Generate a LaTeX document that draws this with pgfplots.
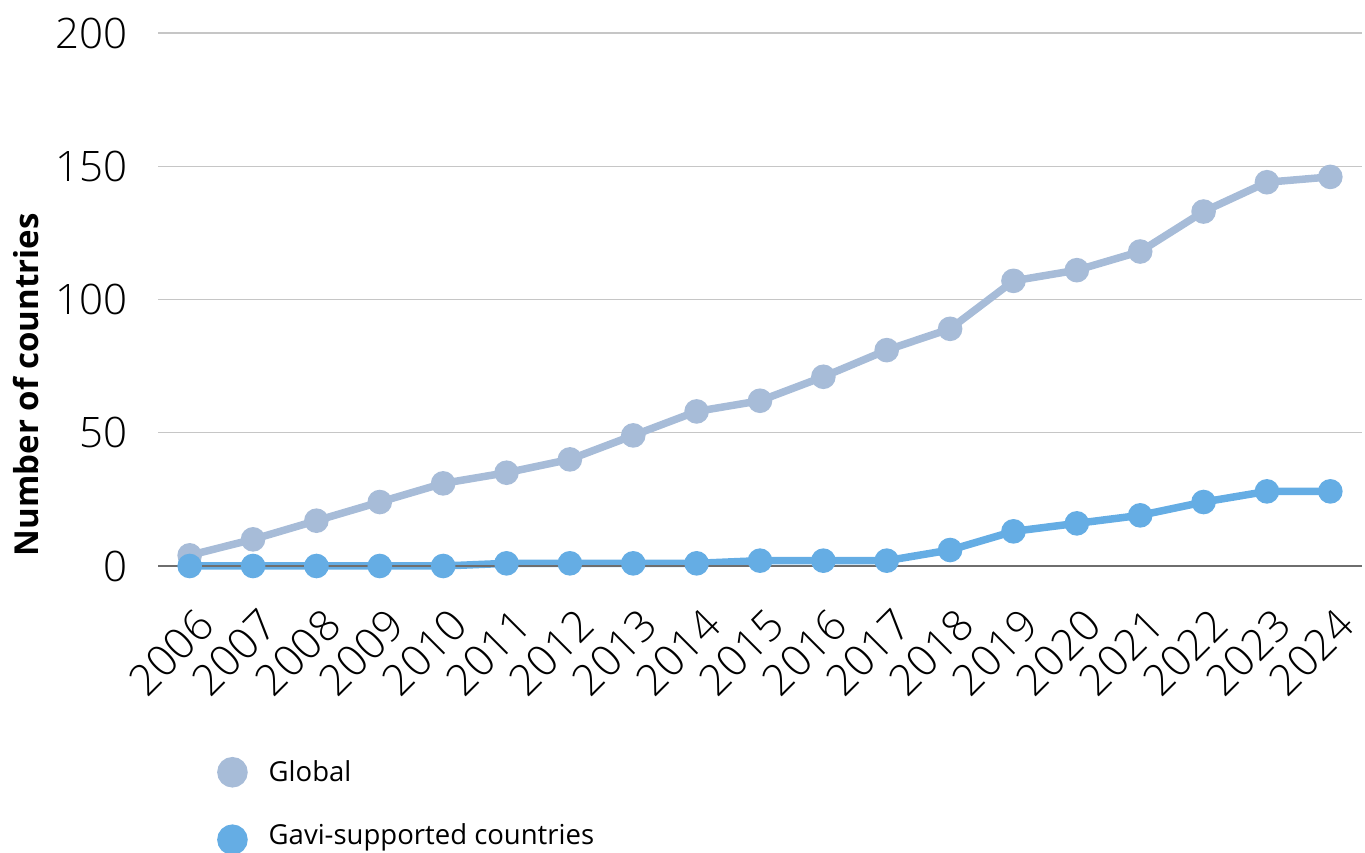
\documentclass[border=0pt]{standalone}
\usepackage{fontspec}
\setmainfont{Open Sans}
\newfontfamily\lightfont{Open Sans Light}
\usepackage{pgfplots}
\pgfplotsset{compat=1.18}
\definecolor{globalc}{HTML}{A7BCD8}
\definecolor{gavic}{HTML}{65ADE4}
\definecolor{gridc}{HTML}{C6C6C6}
\definecolor{zeroc}{HTML}{6E6E6E}
\begin{document}
\begin{tikzpicture}[x=1pt,y=1pt]
\useasboundingbox (0,0) rectangle (1365,853);
\begin{axis}[
  at={(158pt,287pt)}, anchor=south west,
  scale only axis, width=1204pt, height=533pt,
  xmin=2005.5, xmax=2024.5, ymin=0, ymax=200,
  xtick={2006,...,2024}, ytick={0,50,...,200},
  /pgf/number format/1000 sep={},
  /pgf/number format/assume math mode=true,
  ymajorgrids, grid style={draw=gridc, line width=1.2pt},
  axis lines*=left, axis line style={-},
  x axis line style={draw=zeroc, line width=1.2pt},
  y axis line style={draw=none},
  major tick length=0pt,
  clip=false,
  yticklabel style={font=\lightfont\fontsize{42}{42}\selectfont, xshift=-27pt},
  xticklabel style={font=\lightfont\fontsize{43}{43}\selectfont, rotate=45, anchor=east, inner sep=0pt, xshift=-25pt, yshift=-48pt},
  ylabel={Number of countries},
  ylabel style={font=\bfseries\fontsize{33}{33}\selectfont, at={(axis description cs:-0.110,0.34)}, anchor=center},
  legend style={at={(axis description cs:0.049,-0.358)}, anchor=north west, draw=none, fill=none, inner sep=0pt,
    font=\fontsize{27.5}{27.5}\selectfont, row sep=36pt, nodes={inner sep=0pt}},
  legend cell align=left,
  /tikz/every odd column/.append style={column sep=21pt},
]
\addplot[globalc, line width=7.5pt, mark=*, mark size=8.5pt, mark options={fill=globalc, draw=none},
  legend image code/.code={\fill[globalc] (11.5pt,0pt) circle (11.5pt);}]
  coordinates {(2006,4) (2007,10) (2008,17) (2009,24) (2010,31) (2011,35) (2012,40) (2013,49) (2014,58) (2015,62) (2016,71) (2017,81) (2018,89) (2019,107) (2020,111) (2021,118) (2022,133) (2023,144) (2024,146)};
\addlegendentry{Global}
\addplot[gavic, line width=7.5pt, mark=*, mark size=8.5pt, mark options={fill=gavic, draw=none},
  legend image code/.code={\fill[gavic] (11.5pt,-5pt) circle (11.5pt);}]
  coordinates {(2006,0) (2007,0) (2008,0) (2009,0) (2010,0) (2011,1) (2012,1) (2013,1) (2014,1) (2015,2) (2016,2) (2017,2) (2018,6) (2019,13) (2020,16) (2021,19) (2022,24) (2023,28) (2024,28)};
\addlegendentry{Gavi-supported countries}
\draw[zeroc, line width=1.2pt] (axis cs:2005.5,0) -- (axis cs:2024.5,0);
\end{axis}
\end{tikzpicture}
\end{document}
